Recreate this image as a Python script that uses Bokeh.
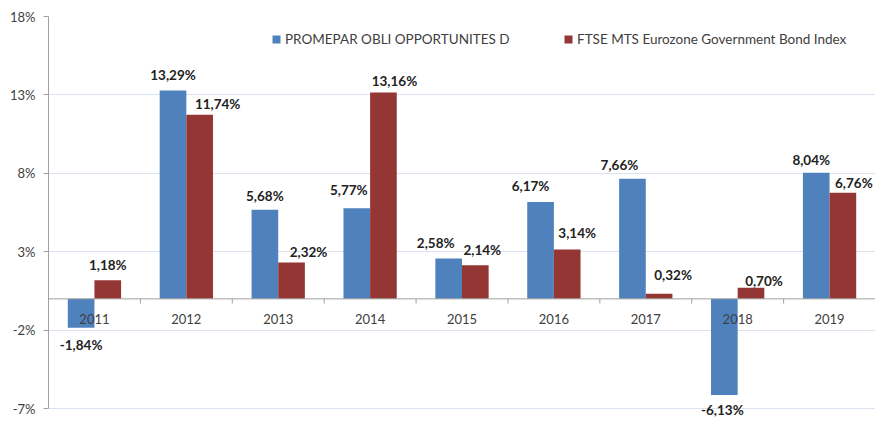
from bokeh.plotting import figure
from bokeh.models import (ColumnDataSource, Range1d, FixedTicker, PrintfTickFormatter,
                          Span, Legend, LegendItem, LabelSet)
from bokeh.core.properties import value
from bokeh.embed import file_html
from bokeh.resources import INLINE

years = ["2011", "2012", "2013", "2014", "2015", "2016", "2017", "2018", "2019"]
promepar = [-1.84, 13.29, 5.68, 5.77, 2.58, 6.17, 7.66, -6.13, 8.04]
ftse = [1.18, 11.74, 2.32, 13.16, 2.14, 3.14, 0.32, 0.70, 6.76]
y_ticks = [-7, -2, 3, 8, 13, 18]
name_a = "PROMEPAR OBLI OPPORTUNITES D"
name_b = "FTSE MTS Eurozone Government Bond Index"

# label nudges in screen pixels (style: hand-placed data labels of the original)
nudge_x_a = [0, 0, 0, -8, -13, -10, -13, -2, -5]
nudge_y_a = [17, -15, -14, -18, -15, -16, -14, 15, -13]
nudge_x_b = [0, 18, 17, 11, 7, 10, 14, 13, 11]
nudge_y_b = [-15, -11, -10, -11, -15, -17, -19, -7, -10]

BLUE = "#4F81BD"
RED = "#943634"
FONT = "Lato"
n = len(years)
bw = 0.29
off = 0.145


def lab(v):
    return f"{v:.2f}".replace(".", ",") + "%"


def make_src(vals, shift, dx, dy):
    xs = [i + 0.5 + shift for i in range(n)]
    return ColumnDataSource(dict(
        x=xs, top=vals, label=[lab(v) for v in vals], dx=dx, dy=[-d for d in dy],
    ))


src_a = make_src(promepar, -off, nudge_x_a, nudge_y_a)
src_b = make_src(ftse, off, nudge_x_b, nudge_y_b)

p = figure(width=875, height=418, output_backend="svg", toolbar_location=None,
           x_range=Range1d(0, n), y_range=Range1d(min(y_ticks) - 0.5, max(y_ticks)),
           min_border_left=48, min_border_right=0, min_border_top=16, min_border_bottom=2)
p.outline_line_color = None
p.background_fill_color = "white"
p.border_fill_color = "white"
p.xaxis.visible = False
p.xgrid.visible = False

p.yaxis.ticker = FixedTicker(ticks=y_ticks)
p.yaxis.bounds = (min(y_ticks), max(y_ticks))
p.yaxis.formatter = PrintfTickFormatter(format="%d%%")
p.yaxis.axis_line_color = "#a0a0a0"
p.yaxis.major_tick_line_color = "#a0a0a0"
p.yaxis.major_tick_out = 5
p.yaxis.major_tick_in = 0
p.yaxis.minor_tick_line_color = None
p.yaxis.major_label_standoff = 8
p.yaxis.major_label_text_font = FONT
p.yaxis.major_label_text_font_size = "13px"
p.yaxis.major_label_text_color = "#404040"
p.ygrid.ticker = FixedTicker(ticks=y_ticks)
p.ygrid.grid_line_color = "#dbe3f0"

r_a = p.vbar(x="x", top="top", bottom=0, width=bw, source=src_a, fill_color=BLUE, line_color=None)
r_b = p.vbar(x="x", top="top", bottom=0, width=bw, source=src_b, fill_color=RED, line_color=None)

# category axis at zero
p.add_layout(Span(location=0, dimension="width", line_color="#a0a0a0", line_width=1))
bounds = list(range(1, n))
p.segment(x0=bounds, y0=[0] * len(bounds), x1=bounds, y1=[-0.3] * len(bounds),
          line_color="#a0a0a0", line_width=1)
p.text(x=[i + 0.5 for i in range(n)], y=[0] * n, text=years, y_offset=20,
       text_align="center", text_baseline="middle", text_font=value(FONT),
       text_font_size="13px", text_color="#404040")

for s in (src_a, src_b):
    p.add_layout(LabelSet(x="x", y="top", text="label", x_offset="dx", y_offset="dy", source=s,
                          text_align="center", text_baseline="middle", text_font=value(FONT),
                          text_font_size="13.5px", text_font_style="bold",
                          text_color="#222222"))

for r, name, loc in ((r_a, name_a, (223, 369)), (r_b, name_b, (515, 369))):
    lg = Legend(items=[LegendItem(label=name, renderers=[r])], location=loc,
                orientation="horizontal", padding=0, margin=0,
                border_line_color=None, background_fill_alpha=0,
                glyph_width=10, glyph_height=10, label_standoff=4,
                label_text_font=FONT, label_text_font_size="13.5px",
                label_text_color="#404040", label_height=14)
    p.add_layout(lg, "center")

open("out.html", "w").write(file_html(p, INLINE))
